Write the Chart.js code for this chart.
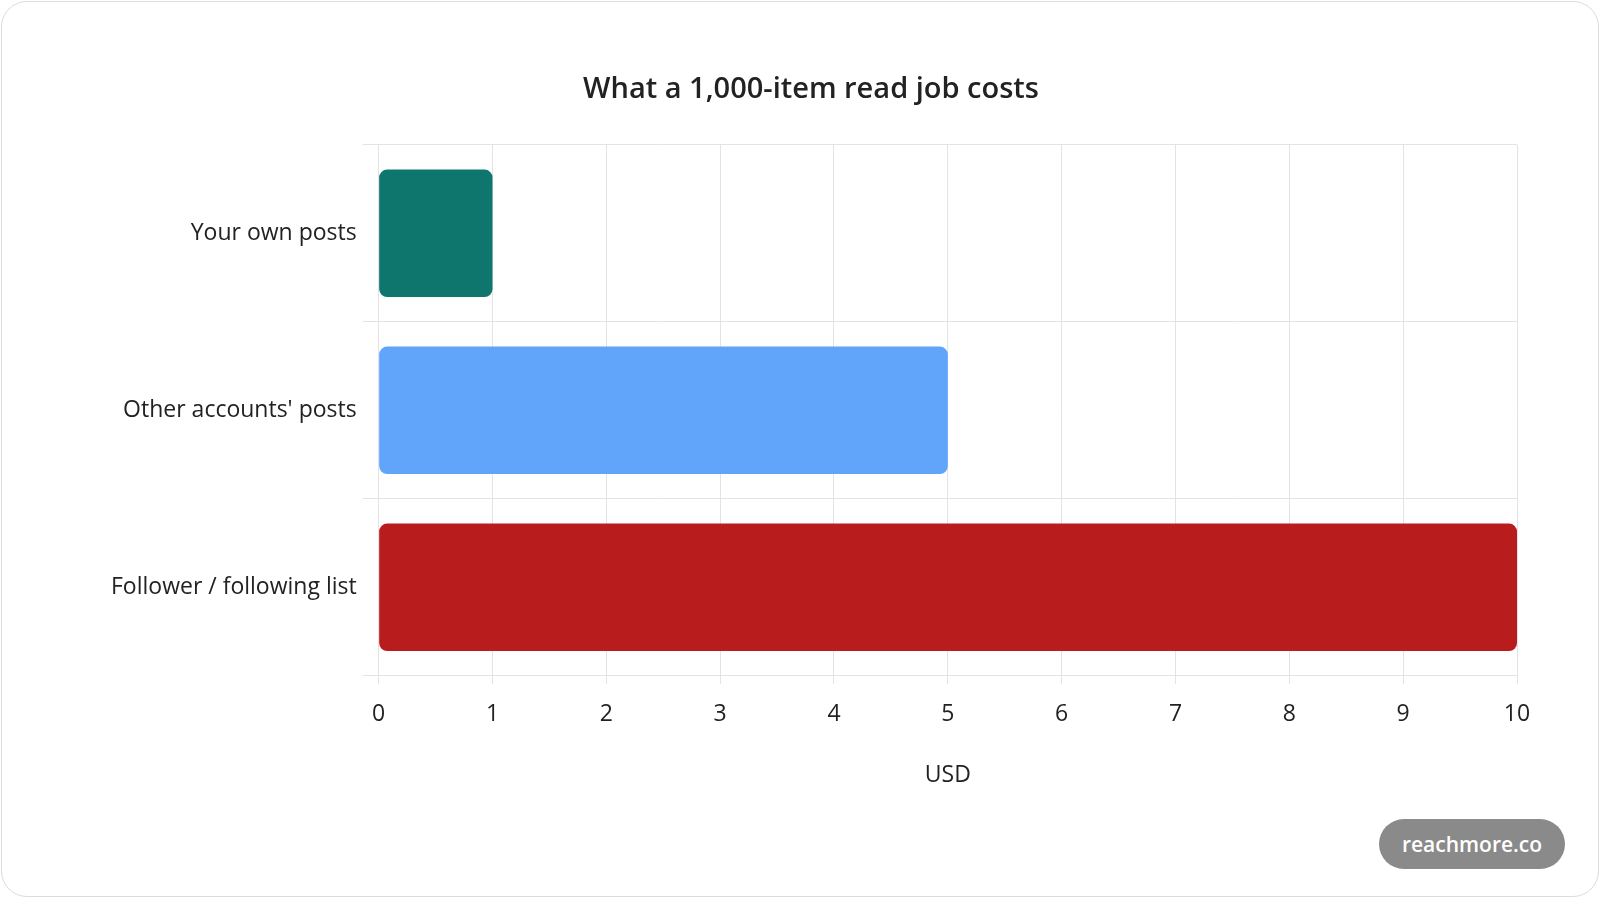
<!DOCTYPE html>
<html><head><meta charset="utf-8">
<script src="https://cdn.jsdelivr.net/npm/chart.js@4"></script>
<style>
html,body{margin:0;padding:0;background:#fff;}
#card{position:absolute;left:1px;top:1px;width:1596px;height:894px;border:1px solid #dcdcdc;border-radius:26px;background:#fff;overflow:hidden;}
#wrap{position:absolute;left:0;top:0;width:1596px;height:894px;}
#badge{position:absolute;left:1377px;top:817px;width:186px;height:50px;border-radius:25px;background:#8a8a8a;color:#fff;font:600 21px "Open Sans",sans-serif;line-height:50px;text-align:center;}
</style></head><body>
<div id="card"><div id="wrap"><canvas id="c" width="1596" height="894"></canvas></div><div id="badge">reachmore.co</div></div>
<script>
const categories = ["Your own posts", "Other accounts' posts", "Follower / following list"];
const costsUSD = [1, 5, 10];
const barColors = ["#0f766e", "#60a5fa", "#b91c1c"];
const titleText = "What a 1,000-item read job costs";
const axisTitle = "USD";
const font = "'Open Sans', 'Noto Sans', sans-serif";
new Chart(document.getElementById('c'), {
  type: 'bar',
  data: { labels: categories, datasets: [{ data: costsUSD, backgroundColor: barColors, borderRadius: 8, borderSkipped: false, barPercentage: 0.72, categoryPercentage: 1 }] },
  options: {
    indexAxis: 'y', responsive: false, animation: false, devicePixelRatio: 1,
    layout: { padding: { left: 103, right: 81, top: 70, bottom: 103 } },
    plugins: {
      legend: { display: false }, tooltip: { enabled: false },
      title: { display: true, text: titleText, color: '#222', font: { family: font, size: 29, weight: '600' }, padding: { top: 0, bottom: 38 } }
    },
    scales: {
      x: { min: 0, max: 10, ticks: { stepSize: 1, color: '#222', font: { family: font, size: 23 }, padding: 17 },
           grid: { color: '#e3e3e3' }, border: { color: '#e3e3e3' },
           title: { display: true, text: axisTitle, color: '#222', font: { family: font, size: 23 }, padding: { top: 16 } } },
      y: { ticks: { color: '#222', font: { family: font, size: 23 }, padding: 6 },
           grid: { color: '#e3e3e3', tickLength: 16 }, border: { color: '#e3e3e3' } }
    }
  }
});
</script></body></html>
